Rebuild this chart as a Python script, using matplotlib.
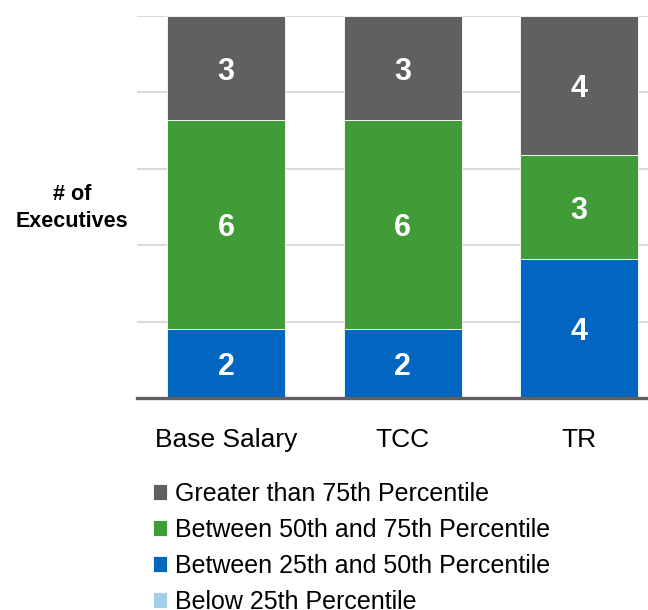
import matplotlib.pyplot as plt
import numpy as np

plt.rcParams['font.family'] = ['Liberation Sans', 'DejaVu Sans']

categories = ['Base Salary', 'TCC', 'TR']
below_25 = [0, 0, 0]
p25_50 = [2, 2, 4]
p50_75 = [6, 6, 3]
above_75 = [3, 3, 4]

series = [
    ('Below 25th Percentile', below_25, '#a3cfeb'),
    ('Between 25th and 50th Percentile', p25_50, '#0066bf'),
    ('Between 50th and 75th Percentile', p50_75, '#409c36'),
    ('Greater than 75th Percentile', above_75, '#606062'),
]


def plot():
    fig = plt.figure(figsize=(6.48, 6.10), dpi=100)
    ax = fig.add_axes([0.2114, 0.3475, 0.7886, 0.6262])

    x = np.arange(len(categories))
    bottom = np.zeros(len(categories))
    handles = []
    for name, vals, color in series:
        vals = np.array(vals, dtype=float)
        bars = ax.bar(x, vals, 0.668, bottom=bottom, color=color,
                      edgecolor='white', linewidth=0.6, label=name, zorder=2)
        handles.append(bars)
        for xi, v, b in zip(x, vals, bottom):
            if v > 0:
                ax.text(xi, b + v / 2, f'{int(v)}', ha='center',
                        va='center_baseline', color='white', fontsize=22,
                        fontweight='bold')
        bottom += vals

    ax.set_xlim(-0.504, 2.39)
    ax.set_ylim(0, 11)
    ax.set_yticks(np.linspace(0, 11, 6))
    ax.yaxis.grid(True, color='#d9d9d9', linewidth=1.4, zorder=0)
    ax.set_axisbelow(True)
    ax.tick_params(axis='y', left=False, labelleft=False)
    ax.tick_params(axis='x', bottom=False, labelsize=19, pad=18)
    ax.set_xticks(x)
    ax.set_xticklabels(categories)
    for s in ['top', 'right', 'left']:
        ax.spines[s].set_visible(False)
    ax.spines['bottom'].set_color('#606060')
    ax.spines['bottom'].set_linewidth(2.4)
    ax.spines['bottom'].set_zorder(3)

    fig.text(0.111, 0.659, '# of\nExecutives', ha='center', va='center',
             fontsize=15.5, fontweight='bold', linespacing=1.35)

    fig.legend(handles[::-1], [s[0] for s in series][::-1], loc='upper left',
               bbox_to_anchor=(0.236, 0.21), frameon=False, fontsize=18,
               handlelength=0.56, handleheight=0.56, handletextpad=0.32,
               labelspacing=0.48, borderpad=0, borderaxespad=0)

    fig.savefig('out.png', dpi=100)


plot()
